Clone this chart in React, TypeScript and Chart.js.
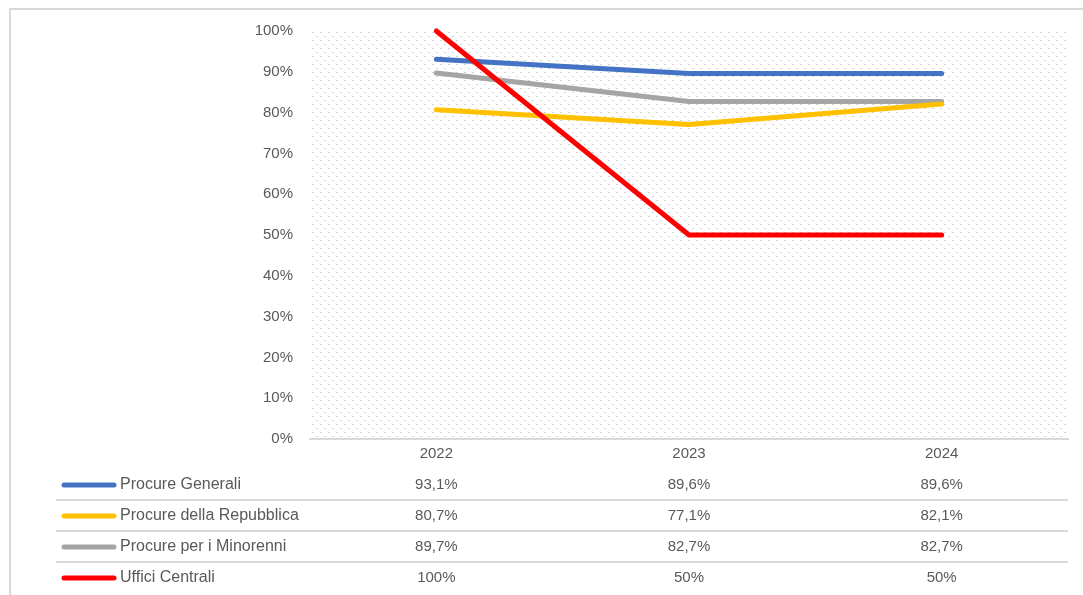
import React, { useEffect, useRef } from 'react';
import { Chart, registerables } from 'chart.js';

Chart.register(...registerables);

const categories = ['2022', '2023', '2024'];
const seriesNames = ['Procure Generali', 'Procure della Repubblica', 'Procure per i Minorenni', 'Uffici Centrali'];
const procureGenerali = [93.1, 89.6, 89.6];
const procureRepubblica = [80.7, 77.1, 82.1];
const procureMinorenni = [89.7, 82.7, 82.7];
const ufficiCentrali = [100, 50, 50];
const seriesColors = ['#4472C4', '#FFC000', '#A5A5A5', '#FF0000'];
const seriesOrder = [3, 1, 2, 0];
const yMin = 0;
const yMax = 100;
const yStep = 10;

const allSeries = [procureGenerali, procureRepubblica, procureMinorenni, ufficiCentrali];

const FONT = '"Liberation Sans", Arial, sans-serif';
const TEXT = '#595959';

function fmt(v: number): string {
  return (Number.isInteger(v) ? String(v) : v.toFixed(1).replace('.', ',')) + '%';
}

export default function App() {
  const ref = useRef<HTMLCanvasElement | null>(null);

  useEffect(() => {
    const canvas = ref.current;
    if (!canvas) return;

    const tile = document.createElement('canvas');
    tile.width = 8;
    tile.height = 8;
    const tctx = tile.getContext('2d')!;
    tctx.fillStyle = '#ffffff';
    tctx.fillRect(0, 0, 8, 8);
    tctx.fillStyle = '#d2d2d2';
    tctx.fillRect(0, 0, 2, 1);
    tctx.fillRect(4, 4, 2, 1);

    const backgroundPlugin = {
      id: 'bgPattern',
      beforeDraw(chart: any) {
        const { ctx, chartArea } = chart;
        ctx.save();
        ctx.fillStyle = '#ffffff';
        ctx.fillRect(0, 0, chart.width, chart.height);
        ctx.strokeStyle = '#d9d9d9';
        ctx.lineWidth = 2;
        ctx.strokeRect(10, 9, chart.width + 20, chart.height + 20);
        const pat = ctx.createPattern(tile, 'repeat');
        ctx.fillStyle = pat;
        ctx.fillRect(chartArea.left, chartArea.top, chartArea.right - chartArea.left, chartArea.bottom - chartArea.top);
        ctx.restore();
      },
    };

    const tablePlugin = {
      id: 'dataTable',
      afterDraw(chart: any) {
        const { ctx, chartArea } = chart;
        const xScale = chart.scales.x;
        const rowH = 31;
        const firstRow = chartArea.bottom + 46;
        ctx.save();
        ctx.textBaseline = 'middle';
        allSeries.forEach((values, i) => {
          const cy = firstRow + i * rowH;
          // legend marker
          ctx.strokeStyle = seriesColors[i];
          ctx.lineWidth = 5;
          ctx.lineCap = 'round';
          ctx.beginPath();
          ctx.moveTo(64, cy);
          ctx.lineTo(114, cy);
          ctx.stroke();
          ctx.fillStyle = TEXT;
          ctx.textAlign = 'left';
          ctx.font = `16px ${FONT}`;
          ctx.fillText(seriesNames[i], 120, cy);
          ctx.textAlign = 'center';
          ctx.font = `15px ${FONT}`;
          values.forEach((v, j) => {
            ctx.fillText(fmt(v), xScale.getPixelForValue(j), cy);
          });
          if (i < allSeries.length - 1) {
            ctx.strokeStyle = '#d9d9d9';
            ctx.lineWidth = 2;
            ctx.lineCap = 'butt';
            ctx.beginPath();
            ctx.moveTo(56, cy + 15);
            ctx.lineTo(chartArea.right, cy + 15);
            ctx.stroke();
          }
        });
        ctx.restore();
      },
    };

    const chart = new Chart(canvas, {
      type: 'line',
      data: {
        labels: categories,
        datasets: allSeries.map((values, i) => ({
          label: seriesNames[i],
          data: values,
          borderColor: seriesColors[i],
          backgroundColor: seriesColors[i],
          borderWidth: 5,
          borderCapStyle: 'round' as const,
          borderJoinStyle: 'round' as const,
          pointRadius: 0,
          tension: 0,
          order: seriesOrder[i],
          clip: 10,
        })),
      },
      options: {
        responsive: false,
        animation: false,
        devicePixelRatio: 1,
        layout: { padding: { left: 0, top: 31, right: 15, bottom: 0 } },
        plugins: {
          legend: { display: false },
          tooltip: { enabled: false },
          title: { display: false },
        },
        scales: {
          x: {
            type: 'category',
            offset: true,
            grid: { display: false, drawTicks: false },
            border: { display: true, color: '#d9d9d9', width: 2 },
            ticks: { color: TEXT, font: { family: FONT, size: 15 }, padding: 6, maxRotation: 0 },
            afterFit(scale: any) {
              scale.height = 156;
            },
          },
          y: {
            min: yMin,
            max: yMax,
            grid: { display: false, drawTicks: false },
            border: { display: false },
            ticks: {
              stepSize: yStep,
              color: TEXT,
              font: { family: FONT, size: 15 },
              padding: 17,
              callback: (v: any) => `${v}%`,
            },
            afterFit(scale: any) {
              scale.width = 310;
            },
          },
        },
      },
      plugins: [backgroundPlugin, tablePlugin],
    });

    return () => chart.destroy();
  }, []);

  return (
    <div style={{ position: 'absolute', left: 0, top: 0, width: 1083, height: 595 }}>
      <canvas ref={ref} width={1083} height={595} style={{ display: 'block', width: 1083, height: 595 }} />
    </div>
  );
}
